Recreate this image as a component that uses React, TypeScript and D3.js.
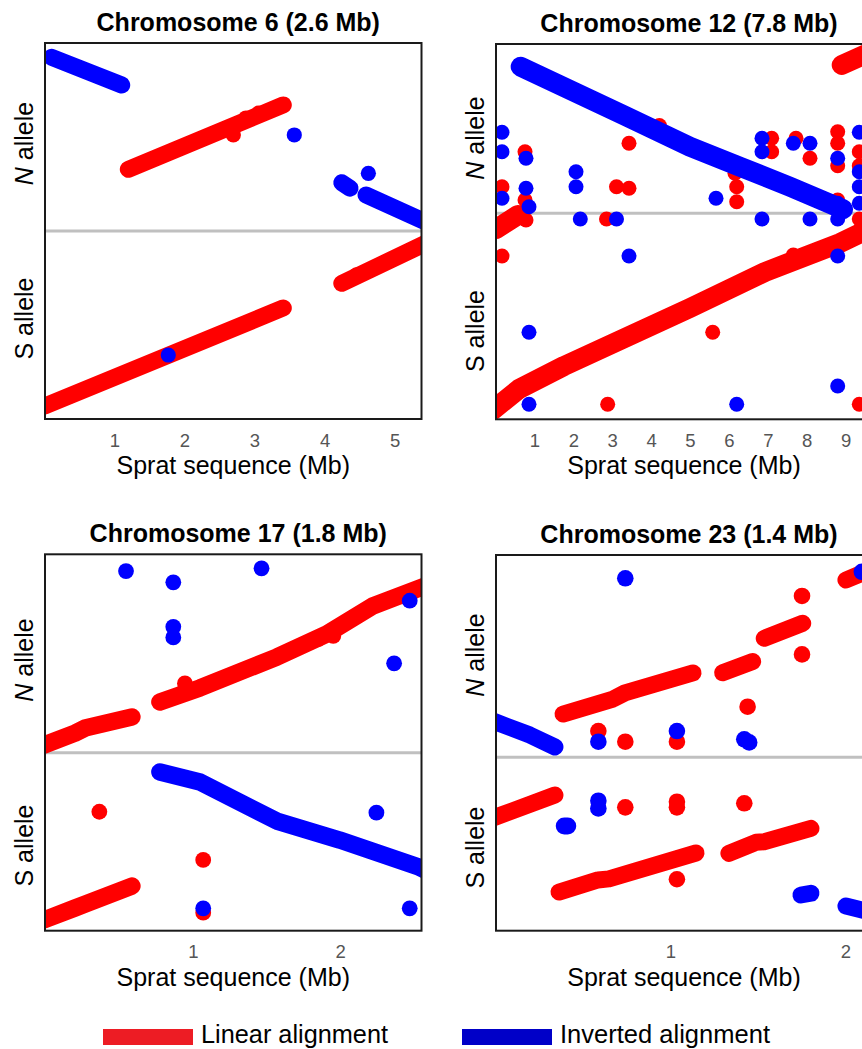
import React from 'react';
import * as d3 from 'd3';

type Pt = [number, number];

// ---------- Chromosome 6 (x: sprat Mb, y: concatenated S|N allele Mb) ----------
const chr6LinearTracks: Pt[][] = [
  [[1.19, 3.567], [3.404, 4.486]],
  [[0.0, 0.186], [3.404, 1.586]],
  [[4.239, 1.938], [5.43, 2.507]],
];
const chr6InvertedTracks: Pt[][] = [
  [[0.096, 5.167], [1.096, 4.771]],
  [[4.239, 3.376], [4.357, 3.296]],
  [[4.586, 3.2], [5.43, 2.819]],
];
const chr6LinearDots: Pt[] = [[2.69, 4.057], [2.87, 4.3], [3.05, 4.37], [0.36, 0.33], [4.45, 2.06]];
const chr6InvertedDots: Pt[] = [[3.561, 4.057], [4.619, 3.51], [1.761, 0.914]];

// ---------- Chromosome 12 ----------
const chr12LinearTracks: Pt[][] = [
  [[-0.077, 0.239], [0.591, 0.779], [1.748, 1.37], [4.987, 2.861], [6.915, 3.787], [8.843, 4.532], [9.743, 4.969]],
  [[0.0, 4.892], [0.566, 5.252]],
  [[8.887, 9.108], [9.743, 9.494]],
];
const chr12InvertedTracks: Pt[][] = [
  [[0.635, 9.064], [3.273, 7.823], [4.987, 7.008], [6.272, 6.494], [7.558, 5.979], [8.92, 5.4]],
];
const chr12LinearDots: Pt[] = [
  [0.154, 5.979], [0.154, 4.198], [0.746, 6.879], [0.746, 5.638], [0.771, 5.123], [2.841, 5.149],
  [3.098, 5.979], [3.419, 5.938], [3.419, 7.095], [2.871, 0.386], [5.571, 2.237], [6.188, 5.979],
  [6.188, 5.594], [6.144, 6.324], [7.087, 7.224], [7.087, 6.879], [7.712, 7.224], [8.072, 6.71],
  [8.784, 7.393], [8.784, 7.095], [8.784, 6.519], [8.784, 5.638], [9.339, 6.879], [9.339, 6.519],
  [9.339, 5.149], [9.339, 0.386], [7.643, 4.224], [4.2, 7.55],
];
const chr12InvertedDots: Pt[] = [
  [0.154, 7.378], [0.154, 6.879], [0.154, 5.681], [0.771, 6.71], [0.771, 5.938], [0.848, 5.465],
  [0.848, 2.237], [0.848, 0.386], [2.057, 6.365], [2.057, 5.979], [2.167, 5.149], [3.098, 5.149],
  [3.419, 4.198], [5.656, 5.681], [6.188, 0.386], [6.838, 7.224], [6.838, 6.879], [6.838, 5.149],
  [7.643, 7.095], [8.072, 7.095], [8.072, 5.149], [8.784, 6.71], [8.784, 5.553], [8.784, 5.149],
  [8.784, 4.198], [8.784, 0.856], [9.339, 7.378], [9.339, 6.365], [9.339, 5.979], [9.339, 5.553],
];

// ---------- Chromosome 17 ----------
const chr17LinearTracks: Pt[][] = [
  [[-0.014, 1.26], [0.197, 1.341], [0.265, 1.375], [0.583, 1.45]],
  [[0.773, 1.552], [1.045, 1.647], [1.567, 1.857], [1.906, 2.013], [2.218, 2.203], [2.571, 2.338]],
  [[-0.014, 0.073], [0.197, 0.154], [0.265, 0.181], [0.583, 0.303]],
];
const chr17InvertedTracks: Pt[][] = [
  [[0.773, 1.077], [1.045, 1.009], [1.567, 0.744], [1.994, 0.615], [2.526, 0.434], [2.571, 0.412]],
];
const chr17LinearDots: Pt[] = [[0.943, 1.678], [0.362, 0.807], [1.067, 0.48], [1.067, 0.122], [1.85, 1.98], [1.95, 2.0]];
const chr17InvertedDots: Pt[] = [
  [0.543, 2.44], [0.864, 2.364], [0.864, 2.062], [0.864, 1.99], [1.463, 2.459], [2.469, 2.239],
  [2.363, 1.814], [2.243, 0.801], [1.067, 0.152], [2.469, 0.152],
];

// ---------- Chromosome 23 ----------
const chr23LinearTracks: Pt[][] = [
  [[0.383, 1.238], [0.669, 1.324], [0.737, 1.359], [1.126, 1.473]],
  [[1.295, 1.474], [1.467, 1.538]],
  [[1.533, 1.671], [1.753, 1.757]],
  [[2.0, 2.004], [2.166, 2.074]],
  [[-0.017, 0.644], [0.337, 0.775]],
  [[0.36, 0.221], [0.583, 0.29], [0.646, 0.296], [1.143, 0.444]],
  [[1.331, 0.442], [1.486, 0.505], [1.531, 0.508], [1.8, 0.585]],
];
const chr23InvertedTracks: Pt[][] = [
  [[-0.017, 1.198], [0.194, 1.118], [0.337, 1.05]],
  [[0.39, 0.598], [0.41, 0.598]],
  [[1.743, 0.204], [1.8, 0.214]],
  [[2.0, 0.141], [2.137, 0.107]],
];
const chr23LinearDots: Pt[] = [
  [1.749, 1.913], [1.749, 1.579], [1.438, 1.28], [0.585, 1.141], [0.739, 1.08], [1.034, 1.08],
  [0.739, 0.705], [1.034, 0.737], [1.034, 0.705], [1.419, 0.728], [1.034, 0.294],
];
const chr23InvertedDots: Pt[] = [
  [0.739, 2.014], [0.585, 1.08], [1.034, 1.141], [1.419, 1.094], [1.447, 1.076], [2.091, 2.051],
  [0.585, 0.743], [0.585, 0.699],
];

const titles = ['Chromosome 6 (2.6 Mb)', 'Chromosome 12 (7.8 Mb)', 'Chromosome 17 (1.8 Mb)', 'Chromosome 23 (1.4 Mb)'];
const ticks6 = [1, 2, 3, 4, 5];
const ticks12 = [1, 2, 3, 4, 5, 6, 7, 8, 9];
const ticks17 = [1, 2];
const ticks23 = [1, 2];
const legendLabels = ['Linear alignment', 'Inverted alignment'];

const RED = '#ff0000';
const BLUE = '#0000ff';
const FONT = "Arial, 'Liberation Sans', Helvetica, sans-serif";

interface PanelCfg {
  id: string;
  title: string;
  left: number; top: number; width: number; height: number;
  xDomain: [number, number]; yDomain: [number, number]; divider: number;
  ticks: number[];
  linTracks: Pt[][]; invTracks: Pt[][]; linDots: Pt[]; invDots: Pt[];
  r: number; sw: number;
  nLabelY: number; sLabelY: number;
}

const panels: PanelCfg[] = [
  {
    id: 'p6', title: titles[0], left: 45, top: 43, width: 376.5, height: 376,
    xDomain: [0, 5.378], yDomain: [0, 5.371], divider: 2.686, ticks: ticks6,
    linTracks: chr6LinearTracks, invTracks: chr6InvertedTracks, linDots: chr6LinearDots, invDots: chr6InvertedDots,
    r: 7.6, sw: 17, nLabelY: 143.5, sLabelY: 318.5,
  },
  {
    id: 'p12', title: titles[1], left: 496, top: 44, width: 376, height: 375.3,
    xDomain: [0, 9.666], yDomain: [0, 9.648], divider: 5.296, ticks: ticks12,
    linTracks: chr12LinearTracks, invTracks: chr12InvertedTracks, linDots: chr12LinearDots, invDots: chr12InvertedDots,
    r: 7.5, sw: 20, nLabelY: 138, sLabelY: 331,
  },
  {
    id: 'p17', title: titles[2], left: 45, top: 554.3, width: 376.5, height: 376.4,
    xDomain: [-0.007, 2.549], yDomain: [0, 2.554], divider: 1.208, ticks: ticks17,
    linTracks: chr17LinearTracks, invTracks: chr17InvertedTracks, linDots: chr17LinearDots, invDots: chr17InvertedDots,
    r: 7.9, sw: 17.5, nLabelY: 660, sLabelY: 845.5,
  },
  {
    id: 'p23', title: titles[3], left: 496, top: 555, width: 376, height: 375.7,
    xDomain: [0, 2.149], yDomain: [0, 2.147], divider: 0.991, ticks: ticks23,
    linTracks: chr23LinearTracks, invTracks: chr23InvertedTracks, linDots: chr23LinearDots, invDots: chr23InvertedDots,
    r: 8.3, sw: 17, nLabelY: 655, sLabelY: 847.5,
  },
];

function Panel({ cfg }: { cfg: PanelCfg }) {
  const x = d3.scaleLinear().domain(cfg.xDomain).range([cfg.left, cfg.left + cfg.width]);
  const y = d3.scaleLinear().domain(cfg.yDomain).range([cfg.top + cfg.height, cfg.top]);
  const line = d3.line<Pt>().x((d) => x(d[0])).y((d) => y(d[1]));
  const bottom = cfg.top + cfg.height;
  const cx = cfg.left + cfg.width / 2;
  const clipId = `clip-${cfg.id}`;
  return (
    <g>
      <defs>
        <clipPath id={clipId}>
          <rect x={cfg.left} y={cfg.top} width={cfg.width} height={cfg.height} />
        </clipPath>
      </defs>
      <text x={cx + 5} y={cfg.top - 12} textAnchor="middle" fontFamily={FONT} fontWeight="bold" fontSize={25} fill="#000">
        {cfg.title}
      </text>
      <g clipPath={`url(#${clipId})`}>
        <line x1={cfg.left} x2={cfg.left + cfg.width} y1={y(cfg.divider)} y2={y(cfg.divider)} stroke="#c0c0c0" strokeWidth={3} />
        {cfg.linTracks.map((t, i) => (
          <path key={`lt${i}`} d={line(t) || ''} fill="none" stroke={RED} strokeWidth={cfg.sw} strokeLinecap="round" strokeLinejoin="round" />
        ))}
        {cfg.linDots.map((d, i) => (
          <circle key={`ld${i}`} cx={x(d[0])} cy={y(d[1])} r={cfg.r} fill={RED} />
        ))}
        {cfg.invTracks.map((t, i) => (
          <path key={`it${i}`} d={line(t) || ''} fill="none" stroke={BLUE} strokeWidth={cfg.sw} strokeLinecap="round" strokeLinejoin="round" />
        ))}
        {cfg.invDots.map((d, i) => (
          <circle key={`id${i}`} cx={x(d[0])} cy={y(d[1])} r={cfg.r} fill={BLUE} />
        ))}
      </g>
      <rect x={cfg.left} y={cfg.top} width={cfg.width} height={cfg.height} fill="none" stroke="#1a1a1a" strokeWidth={2} />
      {cfg.ticks.map((t) => (
        <text key={`tk${t}`} x={x(t)} y={bottom + 27.5} textAnchor="middle" fontFamily={FONT} fontSize={18.5} fill="#555555">
          {t}
        </text>
      ))}
      <text x={cx} y={bottom + 55} textAnchor="middle" fontFamily={FONT} fontSize={25} fill="#000">
        Sprat sequence (Mb)
      </text>
      <text transform={`translate(${cfg.left - 12},${cfg.nLabelY}) rotate(-90)`} textAnchor="middle" fontFamily={FONT} fontSize={25} fill="#000">
        <tspan fontStyle="italic">N</tspan> allele
      </text>
      <text transform={`translate(${cfg.left - 12},${cfg.sLabelY}) rotate(-90)`} textAnchor="middle" fontFamily={FONT} fontSize={25} fill="#000">
        S allele
      </text>
    </g>
  );
}

export default function App() {
  return (
    <svg width={862} height={1049} style={{ position: 'absolute', left: 0, top: 0, background: '#fff' }}>
      <rect x={0} y={0} width={862} height={1049} fill="#fff" />
      {panels.map((p) => (
        <Panel key={p.id} cfg={p} />
      ))}
      <rect x={103} y={1029} width={90} height={16} fill="#ed1c24" />
      <text x={201} y={1043} fontFamily={FONT} fontSize={26} textLength={187} lengthAdjust="spacingAndGlyphs" fill="#000">
        {legendLabels[0]}
      </text>
      <rect x={462} y={1029} width={90} height={16} fill="#0000c8" />
      <text x={560} y={1043} fontFamily={FONT} fontSize={26} textLength={210} lengthAdjust="spacingAndGlyphs" fill="#000">
        {legendLabels[1]}
      </text>
    </svg>
  );
}
